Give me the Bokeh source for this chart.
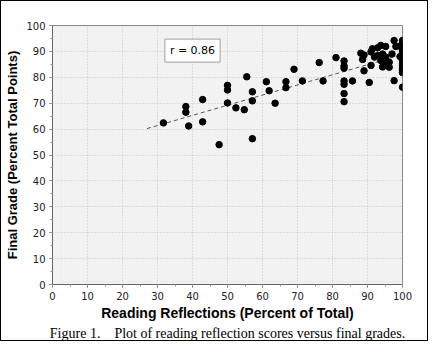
from bokeh.plotting import figure
from bokeh.models import Label, Title, BoxAnnotation, SingleIntervalTicker, ColumnDataSource, Range1d
from bokeh.embed import file_html
from bokeh.resources import INLINE

# Reading reflections (% of total) vs final grade (% of total points)
reflections = [31.7, 38.1, 38.1, 38.9, 42.9, 42.9, 47.6, 50.0, 50.0, 50.0,
               52.4, 54.8, 55.5, 57.1, 57.1, 57.1, 61.1, 61.9, 63.6, 66.7,
               66.7, 69.0, 71.4, 76.2, 77.3, 81.0, 83.3, 83.3, 83.3, 83.3,
               83.3, 83.3, 83.3, 85.7, 88.1, 89.0, 88.6, 89.0, 91.0, 90.5,
               91.0, 91.4, 92.0, 92.9, 92.9, 93.8, 93.8, 94.3, 94.3, 94.8,
               95.2, 95.2, 96.2, 96.2, 97.0, 97.6, 98.1, 97.6, 100.0, 100.0,
               100.0, 100.0, 100.0, 100.0, 100.0, 100.0, 100.0, 100.0, 100.0,
               100.0, 100.0, 100.0, 100.0, 99.3, 99.3]
final_grade = [62.4, 68.7, 66.5, 61.2, 71.4, 62.8, 54.0, 76.9, 75.1, 70.1,
               68.2, 67.5, 80.2, 74.4, 70.9, 56.3, 78.3, 74.8, 70.0, 78.3,
               76.0, 83.1, 78.6, 85.7, 78.6, 87.6, 86.3, 84.4, 83.5, 78.6,
               77.3, 73.7, 70.6, 78.6, 89.3, 88.6, 86.9, 82.5, 89.8, 78.0,
               84.6, 91.0, 87.8, 91.4, 88.4, 92.3, 86.5, 89.0, 84.0, 85.5,
               91.9, 87.8, 85.8, 83.9, 89.0, 94.2, 91.9, 78.7, 76.2, 94.2,
               93.5, 92.5, 91.5, 90.5, 89.5, 88.5, 87.5, 86.5, 85.5, 84.5,
               83.5, 82.5, 81.8, 92.0, 88.0]

trend_x = [27.0, 100.0]
trend_y = [60.2, 88.8]

r_text = "r = 0.86"
r_pos = (40.0, 90.3)

x_label = "Reading Reflections (Percent of Total)"
y_label = "Final Grade (Percent Total Points)"
caption = "Figure 1.\u00a0\u00a0\u00a0 Plot of reading reflection scores versus final grades."

p = figure(width=428, height=341, x_range=Range1d(0, 100), y_range=Range1d(0, 100),
           output_backend="svg", toolbar_location=None,
           min_border_left=51, min_border_right=27, min_border_top=24, min_border_bottom=58,
           background_fill_color="#f2f2f2", border_fill_color="white",
           styles={"border": "1px solid black"})

p.outline_line_color = "#8a8a8a"

for ax in (p.xaxis, p.yaxis):
    ax.ticker = SingleIntervalTicker(interval=10, num_minor_ticks=2)
    ax.axis_line_color = "#666666"
    ax.major_tick_line_color = "#666666"
    ax.minor_tick_line_color = "#999999"
    ax.major_tick_out = 3
    ax.major_tick_in = 0
    ax.minor_tick_out = 2
    ax.minor_tick_in = 0
    ax.major_label_text_font = "DejaVu Sans"
    ax.major_label_text_font_size = "10px"
    ax.major_label_text_color = "#222222"
    ax.axis_label_text_font = "Liberation Sans"
    ax.axis_label_text_font_style = "bold"
    ax.axis_label_text_color = "black"

p.xaxis.axis_label = x_label
p.yaxis.axis_label = y_label
p.xaxis.axis_label_text_font_size = "14px"
p.yaxis.axis_label_text_font_size = "13px"
p.xaxis.axis_label_standoff = 2
p.yaxis.axis_label_standoff = 3
p.xaxis.major_label_standoff = 4
p.yaxis.major_label_standoff = 4

for g in (p.xgrid, p.ygrid):
    g.ticker = SingleIntervalTicker(interval=10)
    g.grid_line_color = "#c4c4c4"
    g.grid_line_dash = "1 2"

src = ColumnDataSource(dict(x=reflections, y=final_grade))
p.line(trend_x, trend_y, line_color="#555555", line_dash="4 3", line_width=1)
p.scatter("x", "y", source=src, size=6.5, color="black")

p.add_layout(Label(x=r_pos[0], y=r_pos[1], text=r_text, text_align="center",
                   text_baseline="middle", text_font="DejaVu Sans", text_font_size="11px",
                   text_color="black", background_fill_color="white",
                   border_line_color="#a0a0a0", padding=5))

p.add_layout(BoxAnnotation(left=9, right=416, top=3, bottom=323,
                           left_units="screen", right_units="screen",
                           top_units="screen", bottom_units="screen",
                           fill_alpha=0, line_color="#dddddd", line_width=1))

p.add_layout(Title(text=caption, text_font="Liberation Serif", text_font_size="14px",
                   text_font_style="normal", text_color="black", align="center",
                   standoff=0), "below")

open("out.html", "w").write(file_html(p, INLINE))
